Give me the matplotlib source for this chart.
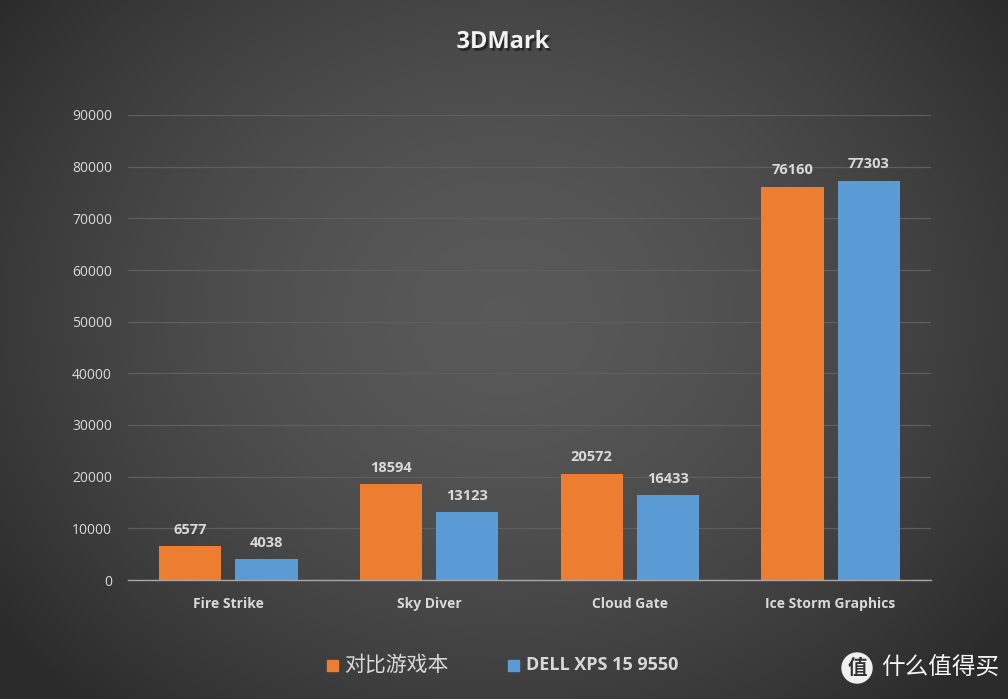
import numpy as np
import matplotlib
matplotlib.use("Agg")
import matplotlib.pyplot as plt
import matplotlib.patheffects as pe
from matplotlib.patches import Rectangle, Circle

categories = ["Fire Strike", "Sky Diver", "Cloud Gate", "Ice Storm Graphics"]
series_names = ["对比游戏本", "DELL XPS 15 9550"]
gaming = [6577, 18594, 20572, 76160]
dell = [4038, 13123, 16433, 77303]
yticks = [0, 10000, 20000, 30000, 40000, 50000, 60000, 70000, 80000, 90000]
colors = ["#ED7D31", "#5B9BD5"]

W, H = 1008, 699
fig = plt.figure(figsize=(W / 100, H / 100), dpi=100)

# radial gradient background
bg = fig.add_axes([0, 0, 1, 1])
yy, xx = np.mgrid[0:H, 0:W]
r = np.sqrt(((xx - W * 0.5) / (W * 0.62)) ** 2 + ((yy - H * 0.45) / (H * 0.75)) ** 2)
r = np.clip(r, 0, 1)
c_in, c_out = 0.35, 0.17
val = c_in + (c_out - c_in) * r ** 1.6
bg.imshow(np.dstack([val, val, val]), extent=[0, W, 0, H], aspect="auto", origin="upper")
bg.set_xlim(0, W)
bg.set_ylim(0, H)
bg.axis("off")

fontfam = ["Open Sans", "Noto Sans CJK SC", "DejaVu Sans"]

ax = fig.add_axes([128 / W, 1 - 580 / H, (931 - 128) / W, (580 - 115) / H])
ax.patch.set_alpha(0)
x = np.arange(len(categories))
bw = 0.31
off = 0.19
for vals, c, o in [(gaming, colors[0], -off), (dell, colors[1], off)]:
    bars = ax.bar(x + o, vals, width=bw, color=c, zorder=3)
    for b, v in zip(bars, vals):
        ax.text(b.get_x() + b.get_width() / 2, v + 1800, f"{v}", ha="center", va="bottom",
                color="#d9d9d9", fontsize=10.5, fontweight="bold", family=fontfam)

ax.set_xlim(-0.5, len(categories) - 0.5)
ax.set_ylim(0, 90000)
ax.set_yticks(yticks)
ax.set_yticklabels([str(t) for t in yticks], color="#d9d9d9", fontsize=10, family=fontfam)
ax.set_xticks(x)
ax.set_xticklabels(categories, color="#d9d9d9", fontsize=10, fontweight="bold", family=fontfam)
ax.tick_params(axis="y", length=0, pad=11.5)
ax.tick_params(axis="x", length=0, pad=12)
ax.yaxis.grid(True, color="#5e5e5e", linewidth=0.9, zorder=0)
for s in ["top", "right", "left"]:
    ax.spines[s].set_visible(False)
ax.spines["bottom"].set_color("#a6a6a6")
ax.spines["bottom"].set_linewidth(1.0)
ax.spines["bottom"].set_zorder(4)

# title with shadow
fig.text(503 / W, 1 - 42 / H, "3DMark", ha="center", va="center", fontsize=17,
         fontweight="bold", color="#f2f2f2", family=fontfam,
         path_effects=[pe.SimplePatchShadow(offset=(1.5, -2), shadow_rgbFace="#111111", alpha=0.6),
                       pe.Normal()])

# legend
sq = 11
bg.add_patch(Rectangle((327, H - 665 - sq / 2), sq, sq, color=colors[0]))
bg.text(344, H - 665, series_names[0], ha="left", va="center", fontsize=15,
        color="#d9d9d9", family=["Noto Sans CJK SC", "DejaVu Sans"])
bg.add_patch(Rectangle((508, H - 665 - sq / 2), sq, sq, color=colors[1]))
bg.text(526, H - 665, series_names[1], ha="left", va="center", fontsize=13,
        fontweight="bold", color="#d9d9d9", family=fontfam)

# watermark
bg.add_patch(Circle((857, H - 668), 15, color="#f0f0f0"))
bg.text(857, H - 668, "值", ha="center", va="center", fontsize=14, fontweight="bold",
        color="#333333", family=["Noto Sans CJK SC"])
bg.text(881, H - 668, "什么值得买", ha="left", va="center", fontsize=17,
        color="#f5f5f5", family=["Noto Sans CJK SC"])

fig.savefig("out.png", dpi=100)
